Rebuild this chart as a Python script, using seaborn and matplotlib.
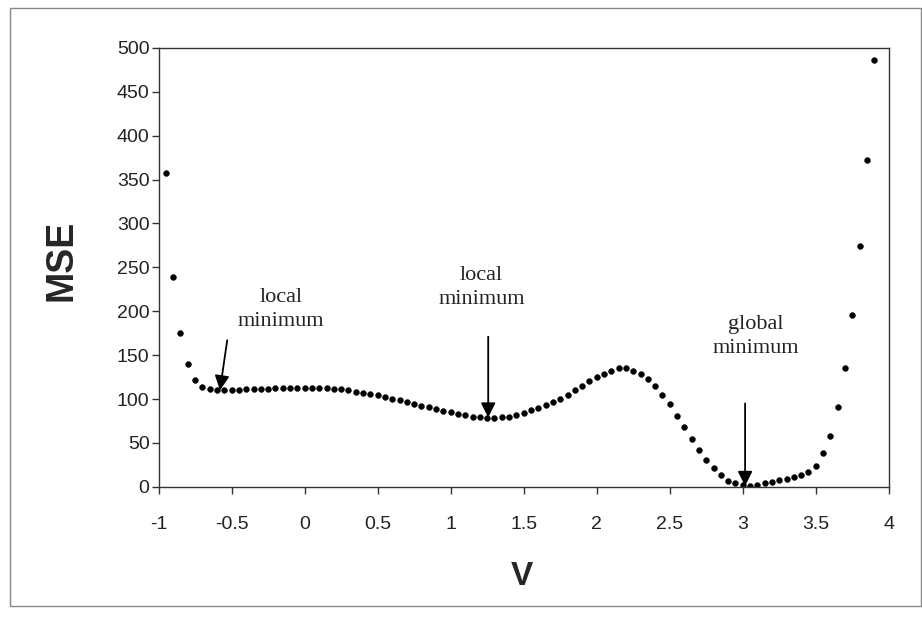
import matplotlib
matplotlib.use("Agg")
import matplotlib.pyplot as plt
import matplotlib.patches as patches
import pandas as pd
import seaborn as sns

# sample points of the error curve
v_values = [
    -0.95, -0.9, -0.85, -0.8, -0.75, -0.7, -0.65, -0.6, -0.55, -0.5,
    -0.45, -0.4, -0.35, -0.3, -0.25, -0.2, -0.15, -0.1, -0.05,
    0.0, 0.05, 0.1, 0.15, 0.2, 0.25, 0.3, 0.35, 0.4, 0.45,
    0.5, 0.55, 0.6, 0.65, 0.7, 0.75, 0.8, 0.85, 0.9, 0.95,
    1.0, 1.05, 1.1, 1.15, 1.2, 1.25, 1.3, 1.35, 1.4, 1.45,
    1.5, 1.55, 1.6, 1.65, 1.7, 1.75, 1.8, 1.85, 1.9, 1.95,
    2.0, 2.05, 2.1, 2.15, 2.2, 2.25, 2.3, 2.35, 2.4, 2.45,
    2.5, 2.55, 2.6, 2.65, 2.7, 2.75, 2.8, 2.85, 2.9, 2.95,
    3.0, 3.05, 3.1, 3.15, 3.2, 3.25, 3.3, 3.35, 3.4, 3.45,
    3.5, 3.55, 3.6, 3.65, 3.7, 3.75, 3.8, 3.85, 3.9,
]
mse_values = [
    357, 239, 175, 140, 122, 114, 111, 110, 110, 110,
    110.5, 111, 111, 111.5, 112, 112.5, 113, 113, 113,
    113, 113, 113, 112.5, 111.5, 111, 110, 108.5, 107, 106,
    104.5, 102.5, 100.5, 98.5, 96.5, 94.5, 92.5, 90.5, 88.5, 86.5,
    85, 83, 81.5, 80, 79, 78, 78, 79, 80, 81.5,
    84, 87, 90, 93, 96.5, 100.5, 105, 110, 115, 120,
    125, 129, 132.5, 135, 135, 132.5, 129, 123, 115, 105,
    94, 81, 68, 55, 42, 31, 21, 13, 7, 4,
    2, 0.5, 2, 4, 6, 8, 9.5, 11, 13, 17,
    24, 38, 58, 91, 135, 196, 274, 372, 486,
]

x_ticks = [-1, -0.5, 0, 0.5, 1, 1.5, 2, 2.5, 3, 3.5, 4]
x_tick_labels = ["-1", "-0.5", "0", "0.5", "1", "1.5", "2", "2.5", "3", "3.5", "4"]
y_ticks = [0, 50, 100, 150, 200, 250, 300, 350, 400, 450, 500]

# annotation labels: text, text position, arrow start, arrow tip
notes = [
    ("local\nminimum", (-0.16, 202), (-0.53, 167), (-0.58, 110)),
    ("local\nminimum", (1.21, 227), (1.257, 171), (1.257, 79)),
    ("global\nminimum", (3.09, 171), (3.016, 95), (3.016, 1)),
]

df = pd.DataFrame({"V": v_values, "MSE": mse_values})

sns.set_theme(style="white")
plt.rcParams["font.family"] = ["Liberation Sans", "DejaVu Sans"]

fig = plt.figure(figsize=(9.22, 6.21), dpi=100)
ax = fig.add_axes([0.172, 0.216, 0.792, 0.707])

sns.scatterplot(data=df, x="V", y="MSE", ax=ax, color="black",
                s=18, edgecolor="black", linewidth=0.3, marker="o")

ax.set_xlim(-1, 4)
ax.set_ylim(0, 500)
ax.set_xticks(x_ticks)
ax.set_xticklabels(x_tick_labels)
ax.set_yticks(y_ticks)
ax.tick_params(axis="both", direction="out", length=5, width=1,
               color="#333333", labelsize=14, labelcolor="#222222",
               bottom=True, left=True)
ax.tick_params(axis="x", pad=16)
ax.tick_params(axis="y", pad=1.5)
for side in ["left", "right", "top", "bottom"]:
    ax.spines[side].set_visible(True)
    ax.spines[side].set_color("#333333")
    ax.spines[side].set_linewidth(1.0)

ax.set_xlabel("V", fontsize=24, fontweight="bold")
ax.set_ylabel("MSE", fontsize=27, fontweight="bold")
ax.xaxis.set_label_coords(0.497, -0.168)
ax.yaxis.set_label_coords(-0.108, 0.515)

for label, text_pos, start, tip in notes:
    ax.text(text_pos[0], text_pos[1], label, ha="center", va="center",
            fontsize=16, family=["Liberation Serif", "DejaVu Serif"],
            linespacing=1.35, color="#222222")
    ax.annotate("", xy=tip, xytext=start,
                arrowprops=dict(arrowstyle="-|>", color="black", lw=1.3,
                                mutation_scale=22, shrinkA=0, shrinkB=0))

# thin frame around the whole chart area
frame = patches.Rectangle((0.011, 0.024), 0.988, 0.963, transform=fig.transFigure,
                          fill=False, edgecolor="#888888", linewidth=1.0)
fig.patches.append(frame)

fig.savefig("out.png", dpi=100)
